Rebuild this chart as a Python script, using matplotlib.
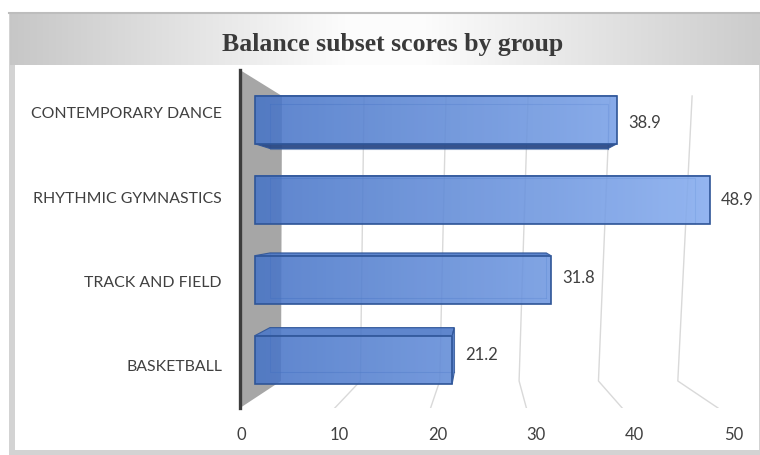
import numpy as np
import matplotlib.pyplot as plt
from matplotlib.colors import LinearSegmentedColormap
from matplotlib.patches import Polygon, Rectangle

# data
groups = ['BASKETBALL', 'TRACK AND FIELD', 'RHYTHMIC GYMNASTICS', 'CONTEMPORARY DANCE']
scores = [21.2, 31.8, 48.9, 38.9]
ticks = [0, 10, 20, 30, 40, 50]
title = 'Balance subset scores by group'

W, H = 760, 455
fig = plt.figure(figsize=(W / 100, H / 100), dpi=100)

# frame and title band (pixel coords)
bg = fig.add_axes([0, 0, 1, 1])
bg.set_xlim(0, W)
bg.set_ylim(H, 0)
bg.axis('off')
bg.add_patch(Rectangle((9, 12), W - 9, H - 12, color='#d3d3d3', lw=0, zorder=1))
bg.add_patch(Rectangle((15, 65), W - 16, 385, color='white', lw=0, zorder=1))
xs = np.linspace(0, 1, 400)
lvl = np.interp(xs, [0, 0.45, 0.55, 1], [0.78, 0.99, 0.99, 0.80])
band = np.stack([lvl, lvl, lvl], axis=-1)[None, :, :].repeat(2, axis=0)
bg.imshow(band, extent=[10, W, 65, 14], aspect='auto', interpolation='bilinear', zorder=2)
bg.plot([9, W], [13, 13], color='#bdbdbd', lw=1.5, zorder=3)
bg.set_xlim(0, W)
bg.set_ylim(H, 0)
fig.text(393 / W, 1 - 45 / H, title, ha='center', va='center', fontsize=18.5,
         fontweight='bold', family='Liberation Serif', color='#3a3a3a')

# main axes
ax = fig.add_axes([240 / W, (H - 408) / H, (752 - 240) / W, (408 - 70) / H])
ax.set_facecolor('none')
ax.set_xlim(-0.1, 51.9)
ax.set_ylim(-0.498, 3.507)

# perspective helpers (value -> axis units)
floor_x = lambda v: -0.203 + 0.973 * v
wall_bot_x = lambda v: 4.065 + 0.806 * v
wall_top_x = lambda v: 4.167 + 0.833 * v
bar_x = lambda v: 1.423 + 0.945 * v
WALL_TOP, WALL_BOT, FLOOR = 3.199, -0.178, -0.498
VX, VY, S = 24.5, 1.789, 0.934

# gridlines on back wall and floor
for v in ticks[1:]:
    ax.plot([wall_top_x(v), wall_bot_x(v), floor_x(v)], [WALL_TOP, WALL_BOT, FLOOR],
            color='#d9d9d9', lw=1, zorder=1)

# grey side wall
ax.add_patch(Polygon([(-0.1, 3.507), (wall_top_x(0), WALL_TOP), (wall_bot_x(0), WALL_BOT),
                      (-0.1, FLOOR)], closed=True, color='#a6a6a6', lw=0, zorder=2))

cmap = LinearSegmentedColormap.from_list('bars', ['#4673c6', '#8ab0f2'])
edge = '#2f5597'

for i, v in enumerate(scores):
    yc = 0.076 + 0.947 * i
    h = 0.569
    yb, yt = yc - h / 2, yc + h / 2
    x0, x1 = bar_x(0), bar_x(v)
    bk = lambda x, y: (VX + (x - VX) * S, VY + (y - VY) * S)
    b00, b10, b11, b01 = bk(x0, yb), bk(x1, yb), bk(x1, yt), bk(x0, yt)

    # back edges seen through
    ax.plot([b01[0], b00[0], b10[0]], [b01[1], b00[1], b10[1]], color=edge, lw=0.8,
            alpha=0.5, zorder=3)
    ax.plot([b01[0], b11[0], b10[0]], [b01[1], b11[1], b10[1]], color=edge, lw=0.8,
            alpha=0.5, zorder=3)
    # side faces
    if yt < VY:
        ax.add_patch(Polygon([(x0, yt), (x1, yt), b11, b01], closed=True, fc='#4d79c8',
                             ec=edge, lw=0.8, alpha=0.9, zorder=4))
    if yb > VY:
        ax.add_patch(Polygon([(x0, yb), (x1, yb), b10, b00], closed=True, fc='#2c4a87',
                             ec=edge, lw=0.8, alpha=0.95, zorder=4))
    if x1 < VX:
        ax.add_patch(Polygon([(x1, yb), (x1, yt), b11, b10], closed=True, fc='#5a86d6',
                             ec=edge, lw=0.8, alpha=0.9, zorder=4))
    # front face
    grad = np.linspace(x0 / 52, x1 / 52, 200)[None, :]
    ax.imshow(grad, extent=[x0, x1, yb, yt], aspect='auto', cmap=cmap, vmin=0, vmax=1,
              alpha=0.88, zorder=5, interpolation='bilinear')
    ax.add_patch(Rectangle((x0, yb), x1 - x0, h, fill=False, ec=edge, lw=1.2, zorder=6))

    # value label
    ty = (yc + VY + (yc - VY) * S) / 2
    ax.text(max(x1, b10[0]) + 1.12, ty, f'{v}', ha='left', va='center', fontsize=12,
            family='Lato', color='#404040', zorder=7)

ax.set_xlim(-0.1, 51.9)
ax.set_ylim(-0.498, 3.507)
ax.set_aspect('auto')

ax.set_xticks(ticks)
ax.set_xticklabels([str(t) for t in ticks], family='Lato', fontsize=12, color='#404040')
ax.set_yticks(range(len(groups)))
ax.set_yticklabels(groups, family='Lato', fontsize=11.4, color='#404040')
ax.tick_params(length=0)
ax.tick_params(axis='x', pad=14)
ax.tick_params(axis='y', pad=13)
for s in ['top', 'right', 'bottom']:
    ax.spines[s].set_visible(False)
ax.spines['left'].set_color('#3c3c3c')
ax.spines['left'].set_linewidth(2.4)
ax.spines['left'].set_zorder(8)

fig.savefig('out.png', dpi=100)
